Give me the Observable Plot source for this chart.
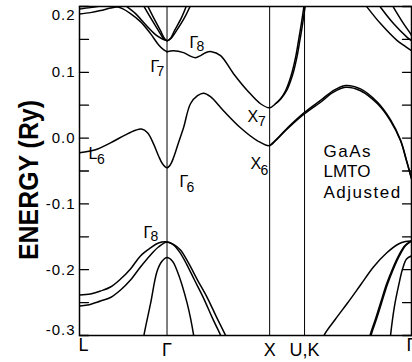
<!DOCTYPE html>
<html><head><meta charset="utf-8">
<script src="https://cdn.jsdelivr.net/npm/d3@7"></script>
<script src="https://cdn.jsdelivr.net/npm/@observablehq/plot@0.6"></script>
<style>body{margin:0;background:#fff;} svg{display:block}</style>
</head><body><div id="chart"></div>
<script>
// symmetry points along the path (k in 2π/a-ish units)
const kPoints = [0, 0.87, 1.89, 2.237, 3.30];
const kLabels = ["L", "Γ", "X", "U,K", "Γ"];
const yTicks = [-0.3, -0.25, -0.2, -0.15, -0.1, -0.05, 0, 0.05, 0.1, 0.15, 0.2];
const yLabels = [-0.3, -0.2, -0.1, 0, 0.1, 0.2];

// conduction bands [k, E(Ry)]
const cbLowA = [[0,-0.0224],[0.159,-0.0178],[0.308,-0.0072],[0.457,0.0050],[0.557,0.0119],[0.616,0.0137],[0.676,0.0081],[0.736,-0.0087],[0.785,-0.0269],[0.825,-0.0391],[0.870,-0.0452],[0.905,-0.0400],[0.934,-0.030],[0.984,-0.007],[1.034,0.0157],[1.103,0.0522],[1.173,0.0644],[1.233,0.0682],[1.302,0.0629],[1.431,0.0416],[1.600,0.0157],[1.769,-0.0041],[1.889,-0.0117],[1.948,-0.0041],[2.078,0.0157],[2.237,0.037],[2.416,0.0568],[2.515,0.069],[2.644,0.0773],[2.793,0.072],[2.962,0.0522],[3.091,0.0263],[3.191,-0.0041],[3.250,-0.0345],[3.300,-0.062]];
const cbLowB = [[1.889,-0.0117],[1.948,-0.0035],[2.078,0.0170],[2.237,0.0390],[2.416,0.0595],[2.515,0.0715],[2.644,0.0800],[2.793,0.0748],[2.962,0.0545],[3.091,0.0280],[3.191,-0.0030],[3.250,-0.0335],[3.300,-0.061]];
const cb2A = [[0.870,0.1313],[0.934,0.1329],[1.034,0.1299],[1.103,0.1245],[1.153,0.1222],[1.203,0.1253],[1.252,0.1298],[1.312,0.1314],[1.402,0.1253],[1.531,0.0979],[1.670,0.072],[1.799,0.0522],[1.889,0.0461],[1.948,0.0522],[1.998,0.0598],[2.048,0.072],[2.087,0.0872],[2.117,0.1024],[2.147,0.1222],[2.177,0.148],[2.202,0.171],[2.222,0.191],[2.232,0.2014],[2.24,0.212]];
const cb2B = [[1.948,0.0522],[2.003,0.0598],[2.058,0.072],[2.099,0.0872],[2.130,0.1024],[2.160,0.1222],[2.190,0.148],[2.215,0.171],[2.234,0.191],[2.244,0.2014],[2.252,0.212]];
const ulL = [[0,0.1963],[0.109,0.1983],[0.209,0.2006],[0.288,0.2029]];
const ulG7 = [[0,0.1887],[0.109,0.1907],[0.209,0.1938],[0.308,0.1976],[0.378,0.1991],[0.427,0.1968],[0.507,0.1892],[0.606,0.1770],[0.706,0.1588],[0.785,0.1420],[0.835,0.1345],[0.870,0.1313]];
const ulG8 = [[0.457,0.2014],[0.557,0.1892],[0.656,0.1725],[0.755,0.1572],[0.820,0.1510],[0.870,0.1481]];
const g8ParA = [[0.636,0.2014],[0.706,0.1831],[0.785,0.1633],[0.835,0.1515],[0.870,0.1481],[0.905,0.1515],[0.944,0.1633],[1.014,0.1831],[1.064,0.2014]];
const g8ParB = [[0.676,0.2014],[0.736,0.1831],[0.805,0.1633],[0.843,0.1520],[0.870,0.1481],[0.912,0.1520],[0.964,0.1633],[1.044,0.1831],[1.103,0.2014]];
const urA = [[2.833,0.2044],[2.86,0.1988],[2.992,0.1740],[3.158,0.1481],[3.241,0.139],[3.300,0.1329]];
const urB = [[2.992,0.1988],[3.121,0.174],[3.257,0.1531],[3.300,0.148]];
const urC = [[3.121,0.1988],[3.221,0.174],[3.290,0.1587],[3.300,0.156]];
// valence bands
const vHhA = [[0,-0.2385],[0.109,-0.237],[0.209,-0.2324],[0.308,-0.2263],[0.408,-0.2142],[0.507,-0.1989],[0.606,-0.1791],[0.706,-0.167],[0.785,-0.1594],[0.870,-0.1578],[0.934,-0.1616],[1.004,-0.170],[1.083,-0.1898],[1.173,-0.2157],[1.272,-0.2431],[1.362,-0.272],[1.456,-0.301],[1.49,-0.312]];
const vHhB = [[0,-0.2552],[0.080,-0.2537],[0.209,-0.2476],[0.308,-0.2423],[0.408,-0.2309],[0.507,-0.2157],[0.606,-0.1959],[0.706,-0.1776],[0.785,-0.1655],[0.870,-0.1578],[0.934,-0.1624],[0.994,-0.173],[1.064,-0.1914],[1.143,-0.2157],[1.233,-0.2431],[1.317,-0.272],[1.407,-0.301],[1.44,-0.312]];
const vSo = [[0.63,-0.312],[0.639,-0.301],[0.706,-0.2516],[0.772,-0.2019],[0.822,-0.1869],[0.870,-0.1816],[0.922,-0.1869],[0.971,-0.2019],[1.071,-0.2516],[1.136,-0.301],[1.145,-0.312]];
const vKgA = [[2.42,-0.312],[2.428,-0.301],[2.545,-0.275],[2.664,-0.2507],[2.793,-0.2233],[2.922,-0.1959],[3.052,-0.1746],[3.171,-0.1609],[3.241,-0.1571],[3.300,-0.1563]];
const vKgB = [[2.875,-0.312],[2.886,-0.301],[2.942,-0.275],[2.992,-0.2507],[3.052,-0.2218],[3.111,-0.1989],[3.171,-0.1791],[3.231,-0.1639],[3.300,-0.1563]];
const vKgC = [[2.885,-0.312],[2.896,-0.301],[2.952,-0.275],[3.002,-0.2507],[3.062,-0.2218],[3.120,-0.1989],[3.179,-0.1791],[3.238,-0.1639],[3.300,-0.1563]];
const vKgSo = [[3.085,-0.312],[3.091,-0.301],[3.131,-0.2553],[3.171,-0.2247],[3.211,-0.1989],[3.251,-0.1837],[3.300,-0.1791]];

const bands = [cbLowA, cbLowB, cb2A, cb2B, ulL, ulG7, ulG8, g8ParA, g8ParB, urA, urB, urC, vHhA, vHhB, vSo, vKgA, vKgB, vKgC, vKgSo];

// state labels
const annoNames = ["Γ", "Γ", "X", "X", "L", "Γ", "Γ"];
const annoK = [1.093, 0.706, 1.670, 1.700, 0.089, 0.994, 0.636];
const annoE = [0.1451, 0.1085, 0.0324, -0.0399, -0.0247, -0.0665, -0.1441];
const annoSubs = ["8", "7", "7", "6", "6", "6", "8"];
const subK = [1.163, 0.765, 1.774, 1.799, 0.174, 1.064, 0.706];
const subE = [0.139, 0.1009, 0.0248, -0.0490, -0.0330, -0.0756, -0.1502];

const infoLines = ["GaAs", "LMTO", "Adjusted"];
const infoE = [-0.0201, -0.0505, -0.0825];
const infoK = 2.425;
const yTitle = "ENERGY (Ry)";

const font = "'Liberation Sans', Arial, Helvetica, sans-serif";
const fmt = d => d.toFixed(1);
const tickShape = {draw(context, l) { context.moveTo(0, 0); context.lineTo(0, -l); }};
const midLabels = yLabels.slice(1, -1);
const midK = kPoints.slice(1, 4);

const plot = Plot.plot({
  width: 412, height: 362,
  marginLeft: 79, marginRight: 1, marginTop: 6, marginBottom: 27,
  x: {domain: [0, 3.30]},
  y: {domain: [-0.3, 0.2]},
  style: {fontFamily: font, color: "black", background: "white", overflow: "visible"},
  marks: [
    Plot.ruleX(midK, {stroke: "black", strokeWidth: 1}),
    ...bands.map(b => Plot.line(b, {curve: "catmull-rom", stroke: "black", strokeWidth: 1.5, clip: true})),
    Plot.frame({stroke: "black", strokeWidth: 1.5}),
    // inward ticks on both sides
    Plot.vector(yTicks, {y: d => d, frameAnchor: "left", length: 9, rotate: 90, anchor: "start", shape: tickShape, stroke: "black", strokeWidth: 1.3}),
    Plot.vector(yTicks, {y: d => d, frameAnchor: "right", length: 9, rotate: -90, anchor: "start", shape: tickShape, stroke: "black", strokeWidth: 1.3}),
    // tick labels
    Plot.axisY({anchor: "left", ticks: midLabels, tickSize: 0, tickPadding: 4, tickFormat: fmt, fontSize: 15, label: null}),
    Plot.text([yLabels[yLabels.length - 1]], {y: d => d, text: fmt, frameAnchor: "left", dx: -4, dy: 9, textAnchor: "end", fontSize: 15}),
    Plot.text([yLabels[0]], {y: d => d, text: fmt, frameAnchor: "left", dx: -4, dy: -5, textAnchor: "end", fontSize: 15}),
    Plot.axisX({ticks: midK, tickSize: 0, tickPadding: 8, tickFormat: d => kLabels[kPoints.indexOf(d)], fontSize: 18, label: null}),
    Plot.text([kLabels[0]], {x: kPoints[0], text: d => d, frameAnchor: "bottom", dy: 15, dx: -1, textAnchor: "start", fontSize: 18}),
    Plot.text([kLabels[4]], {x: kPoints[4], text: d => d, frameAnchor: "bottom", dy: 15, dx: -5, textAnchor: "start", fontSize: 18}),
    // state labels
    Plot.text(annoNames, {x: annoK, y: annoE, text: d => d, textAnchor: "start", lineAnchor: "middle", fontSize: 16}),
    Plot.text(annoSubs, {x: subK, y: subE, text: d => d, textAnchor: "start", lineAnchor: "middle", fontSize: 14}),
    Plot.text(infoLines, {x: () => infoK, y: infoE, text: d => d, textAnchor: "start", lineAnchor: "middle", fontSize: 17}),
    Plot.text([yTitle], {text: d => d, frameAnchor: "left", dx: -50, dy: 9, rotate: -90, textAnchor: "middle", lineAnchor: "middle", fontSize: 28, fontWeight: "bold"})
  ]
});
document.getElementById("chart").appendChild(plot);
const svg = d3.select(plot);
svg.selectAll("text").filter(function() { return this.textContent === yTitle; })
  .attr("textLength", 160).attr("lengthAdjust", "spacingAndGlyphs");
svg.selectAll("text").filter(function() { return this.textContent === "GaAs" || this.textContent === "Adjusted"; })
  .attr("letter-spacing", "1.5px");
svg.selectAll("text").filter(function() { return yLabels.map(fmt).includes(this.textContent); })
  .attr("letter-spacing", "1px");
</script>
</body></html>
